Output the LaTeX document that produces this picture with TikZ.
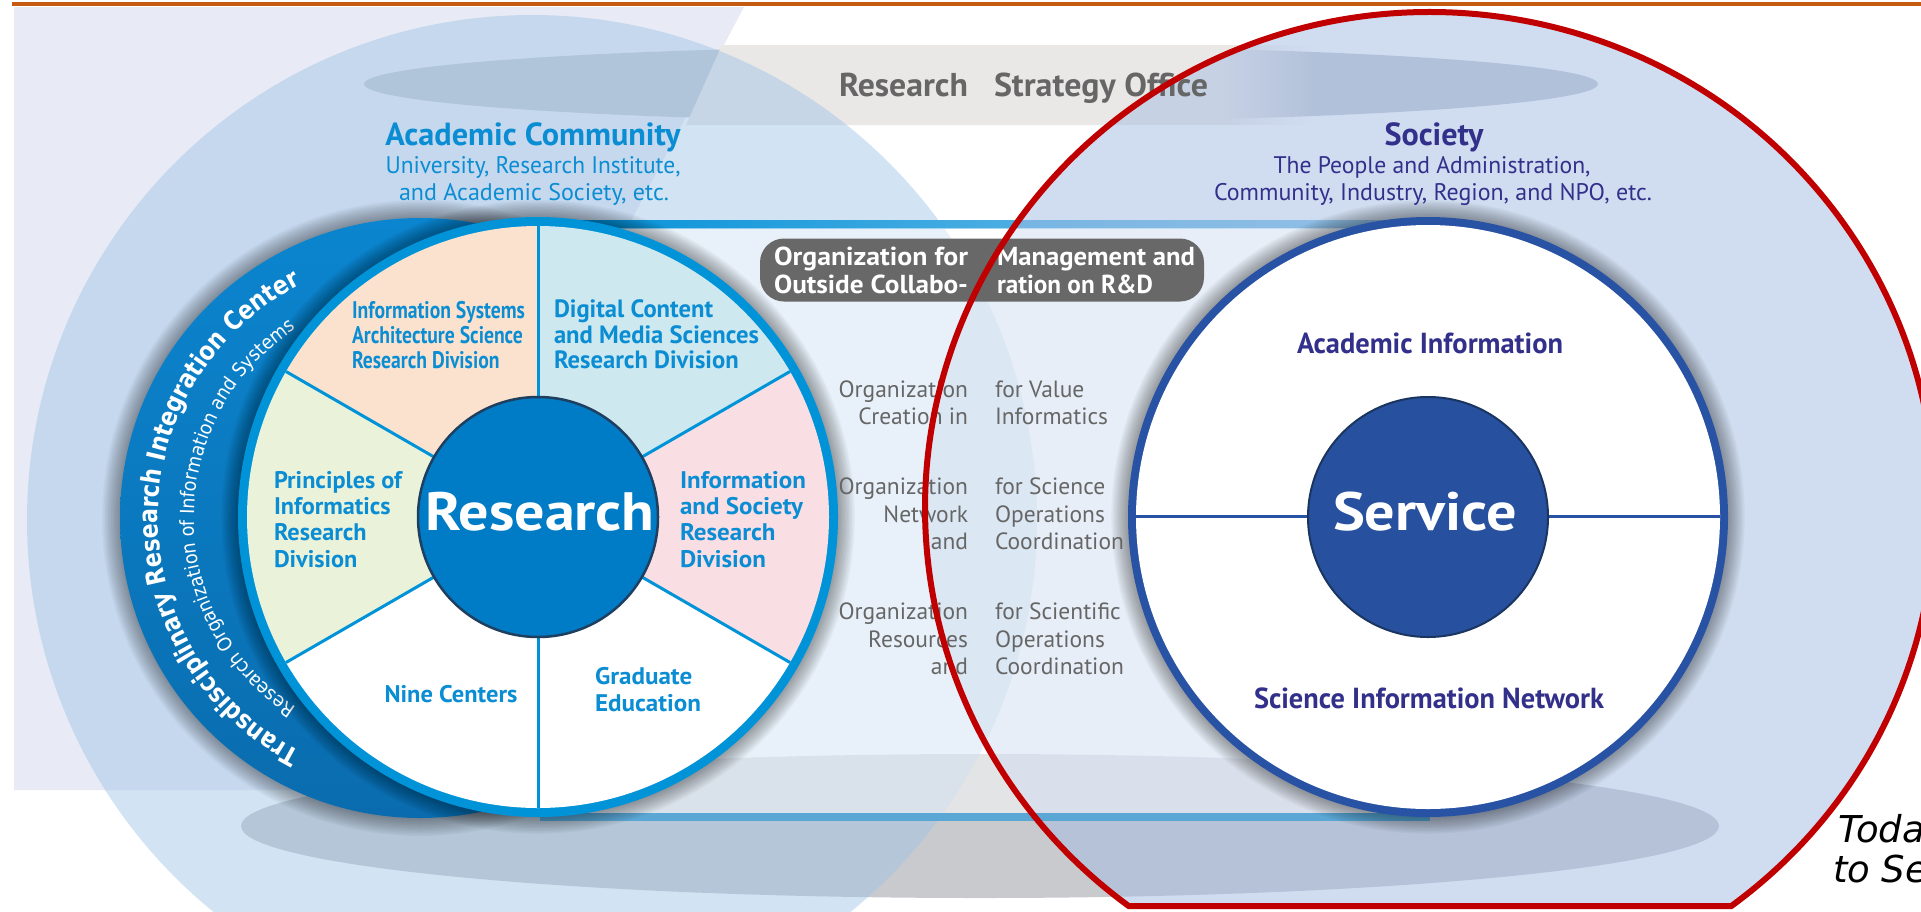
\documentclass[tikz,border=0pt]{standalone}
\usepackage{fontspec}
\usepackage{graphicx}
\setmainfont{PT Sans}
\newfontfamily\djv{DejaVu Sans}
\newfontfamily\djvc[FakeStretch=0.85]{DejaVu Sans}
\newfontfamily\djvt[FakeStretch=0.9]{DejaVu Sans}
\usetikzlibrary{decorations.text,fadings}
\definecolor{orangeline}{HTML}{C55A11}
\definecolor{lav}{HTML}{E8EBF5}
\definecolor{rsoell}{HTML}{C3C8D1}
\definecolor{botell}{HTML}{C8CACE}
\definecolor{bandgray}{HTML}{EAE7E7}
\definecolor{leftc}{HTML}{9CC3E6}
\definecolor{rightc}{HTML}{A3BCE3}
\definecolor{bandblue}{HTML}{0090D8}
\definecolor{bandlight}{HTML}{8CC8EC}
\definecolor{bandbot}{HTML}{5AA7D6}
\definecolor{backdiscA}{HTML}{0B85CF}
\definecolor{backdiscB}{HTML}{0A6CAE}
\definecolor{ring}{HTML}{0093D8}
\definecolor{secDC}{HTML}{CDE8EE}
\definecolor{secIS}{HTML}{FBE2CE}
\definecolor{secPR}{HTML}{EAF2DA}
\definecolor{secISo}{HTML}{F9DEE4}
\definecolor{resdisc}{HTML}{007CC6}
\definecolor{resline}{HTML}{1F3F60}
\definecolor{servring}{HTML}{2852A3}
\definecolor{servdisc}{HTML}{27509E}
\definecolor{servline}{HTML}{1A3560}
\definecolor{acblue}{HTML}{0B8DD3}
\definecolor{socind}{HTML}{32308A}
\definecolor{orgbox}{HTML}{686868}
\definecolor{graytxt}{HTML}{666666}
\definecolor{redline}{HTML}{C00000}
\tikzfading[name=fadeR, left color=transparent!0, right color=transparent!100]
\newcommand{\fitline}[3]{\resizebox{#1pt}{\height}{\fontsize{#2}{#2}\selectfont #3}}
\newcommand{\fitblk}[4]{\resizebox{#1pt}{\height}{\fontsize{#2}{#3}\selectfont\begin{tabular}{@{}l@{}}#4\end{tabular}}}
\newcommand{\arcB}{\djvc\bfseries\fontsize{26}{26}\selectfont\color{white}}
\newcommand{\arcT}{\djvt\fontsize{19.5}{19.5}\selectfont\color{white}}
\begin{document}
\begin{tikzpicture}[x=1pt,y=1pt]
\tikzset{lbl/.style={inner sep=0pt,outer sep=0pt},
  gtxt/.style={inner sep=0pt,outer sep=0pt,text=graytxt,font=\fontsize{23.5}{23.5}\selectfont},
  otxt/.style={inner sep=0pt,outer sep=0pt,text=white}}
\useasboundingbox (0,0) rectangle (1921,-911);
\fill[white] (0,0) rectangle (1921,-911);
% pale background sheet
\fill[lav] (14,-7) -- (744,-7) -- (330,-790) -- (14,-790) -- cycle;
\draw[orangeline, line width=4pt] (12,-4) -- (1921,-4);
% ellipses
\fill[rsoell] (981,-84) ellipse [x radius=617, y radius=38];
\fill[botell] (980,-826) ellipse [x radius=739, y radius=72];
\fill[bandgray] (722,-45) -- (1225,-45) -- (1225,-125) -- (686,-125) -- cycle;
\fill[bandgray, path fading=fadeR] (1224,-45) rectangle (1315,-125);
% academic community circle
\fill[leftc, opacity=0.45] (532,-520) circle (505);
% band lines
\shade[left color=bandblue, middle color=bandblue, right color=bandlight] (540,-220) rectangle (1430,-228);
% society circle
\fill[rightc, opacity=0.5] (1430,-508) ++(-53.4:505 and 496) arc[start angle=-53.4, end angle=233.4, x radius=505, y radius=496] -- cycle;
\fill[bandbot] (540,-813) rectangle (1430,-821);
\fill[white, opacity=0.5] (540,-228) rectangle (1430,-813);
% back disc
\foreach \k in {1,...,12} \fill[black, opacity=0.03] (420,-518) circle ({300+1.5*\k});
\shade[top color=backdiscA, bottom color=backdiscB] (420,-518) circle (300);
\path[decorate, decoration={text along path, text align=center, text={|\arcB|Transdisciplinary Research Integration Center}}] (420,-518) ++(265:262) arc[start angle=265, end angle=95, radius=262];
\path[decorate, decoration={text along path, text align=center, text={|\arcT|Research Organization of Information and Systems}}] (420,-518) ++(265:226) arc[start angle=265, end angle=95, radius=226];
% wheel
\foreach \k in {1,...,12} \fill[black, opacity=0.03] (538,-517) circle ({300+1.4*\k});
\fill[ring] (538,-517) circle (300);
\foreach \a/\b/\c in {30/90/secDC, 90/150/secIS, 150/210/secPR, 210/270/white, 270/330/white, 330/390/secISo}
  \fill[\c] (538,-517) -- ++(\a:291) arc[start angle=\a, end angle=\b, radius=291] -- cycle;
\foreach \a in {30,90,...,330} \draw[ring, line width=3pt] (538,-517) -- ++(\a:291);
\filldraw[fill=resdisc, draw=resline, line width=2.5pt] (538,-517) circle (120);
\node[lbl, anchor=base, text=white] (restxt) at (540,-530) {\bfseries\fitline{229}{54}{Research}};
% service
\foreach \k in {1,...,12} \fill[black, opacity=0.03] (1428,-517) circle ({300+1.4*\k});
\fill[servring] (1428,-517) circle (300);
\fill[white] (1428,-517) circle (292);
\draw[servring, line width=3pt] (1136,-516) -- (1720,-516);
\filldraw[fill=servdisc, draw=servline, line width=2pt] (1428,-517) circle (120);
\node[lbl, anchor=base, text=white] (sertxt) at (1425,-530) {\bfseries\fitline{184}{54}{Service}};
% sector labels
\node[lbl, anchor=west, text=acblue] (isa) at (352,-338) {\bfseries\fitblk{173}{24}{25}{Information Systems\\Architecture Science\\Research Division}};
\node[lbl, anchor=west, text=acblue] (dcm) at (554,-338) {\bfseries\fitblk{205}{25}{25.5}{Digital Content\\and Media Sciences\\Research Division}};
\node[lbl, anchor=west, text=acblue] (pri) at (274,-522.5) {\bfseries\fitblk{128}{24}{26.3}{Principles of\\Informatics\\Research\\Division}};
\node[lbl, anchor=west, text=acblue] (ias) at (680,-522.5) {\bfseries\fitblk{126}{24}{26.3}{Information\\and Society\\Research\\Division}};
\node[lbl, anchor=base, text=acblue] (nine) at (451,-702) {\bfseries\fitline{133}{24}{Nine Centers}};
\node[lbl, anchor=west, text=acblue] (grad) at (595,-692.5) {\bfseries\fitblk{106}{24}{27}{Graduate\\Education}};
\node[lbl, anchor=base, text=socind] (acinf) at (1430,-353) {\bfseries\fitline{266}{29}{Academic Information}};
\node[lbl, anchor=base, text=socind] (scinet) at (1429,-708) {\bfseries\fitline{350}{29}{Science Information Network}};
% headings
\node[lbl, anchor=base, text=acblue] (acc) at (533,-145) {\bfseries\fitline{295}{32}{Academic Community}};
\node[lbl, anchor=base, text=acblue] (acc1) at (533,-173) {\fitline{295}{24}{University, Research Institute,}};
\node[lbl, anchor=base, text=acblue] (acc2) at (534,-200) {\fitline{270}{24}{and Academic Society, etc.}};
\node[lbl, anchor=base, text=socind] (soc) at (1434,-145) {\bfseries\fitline{99}{32}{Society}};
\node[lbl, anchor=base, text=socind] (soc1) at (1432,-173) {\fitline{317}{24}{The People and Administration,}};
\node[lbl, anchor=base, text=socind] (soc2) at (1433,-200) {\fitline{438}{24}{Community, Industry, Region, and NPO, etc.}};
\node[lbl, anchor=base west, text=graytxt] (rso1) at (839,-96) {\bfseries\fitline{129}{33}{Research}};
\node[lbl, anchor=base west, text=graytxt] (rso2) at (994,-96) {\bfseries\fitline{214}{33}{Strategy Office}};
% organization box
\node[lbl, fill=orgbox, rounded corners=24pt, minimum width=444pt, minimum height=63pt] (obox) at (982,-270) {};
\node[otxt, anchor=base west] (ob1) at (774,-265) {\bfseries\fitline{194}{26}{Organization for}};
\node[otxt, anchor=base west] (ob2) at (774,-293) {\bfseries\fitline{194}{26}{Outside Collabo-}};
\node[otxt, anchor=base west] (ob3) at (997,-265) {\bfseries\fitline{198}{26}{Management and}};
\node[otxt, anchor=base west] (ob4) at (997,-293) {\bfseries\fitline{156}{26}{ration on R\&D}};
% middle gray texts
\node[gtxt, anchor=base east] (g1a) at (968,-397) {Organization};
\node[gtxt, anchor=base west] (g1b) at (995,-397) {for Value};
\node[gtxt, anchor=base east] (g1c) at (968,-424) {Creation in};
\node[gtxt, anchor=base west] (g1d) at (995,-424) {Informatics};
\node[gtxt, anchor=base east] (g2a) at (968,-494) {Organization};
\node[gtxt, anchor=base west] (g2b) at (995,-494) {for Science};
\node[gtxt, anchor=base east] (g2c) at (968,-522) {Network};
\node[gtxt, anchor=base west] (g2d) at (995,-522) {Operations};
\node[gtxt, anchor=base east] (g2e) at (968,-549) {and};
\node[gtxt, anchor=base west] (g2f) at (995,-549) {Coordination};
\node[gtxt, anchor=base east] (g3a) at (968,-619) {Organization};
\node[gtxt, anchor=base west] (g3b) at (995,-619) {for Scientific};
\node[gtxt, anchor=base east] (g3c) at (968,-647) {Resources};
\node[gtxt, anchor=base west] (g3d) at (995,-647) {Operations};
\node[gtxt, anchor=base east] (g3e) at (968,-674) {and};
\node[gtxt, anchor=base west] (g3f) at (995,-674) {Coordination};
% red outline
\draw[redline, line width=6pt] (1430,-508) ++(-53.4:505 and 496) arc[start angle=-53.4, end angle=233.4, x radius=505, y radius=496] -- cycle;
\node[lbl, anchor=base west, font=\djv\itshape\fontsize{37}{37}\selectfont] (toda) at (1838,-842) {Toda};
\node[lbl, anchor=base west, font=\djv\itshape\fontsize{37}{37}\selectfont] (tose) at (1833,-882) {to Se};
\end{tikzpicture}
\end{document}
